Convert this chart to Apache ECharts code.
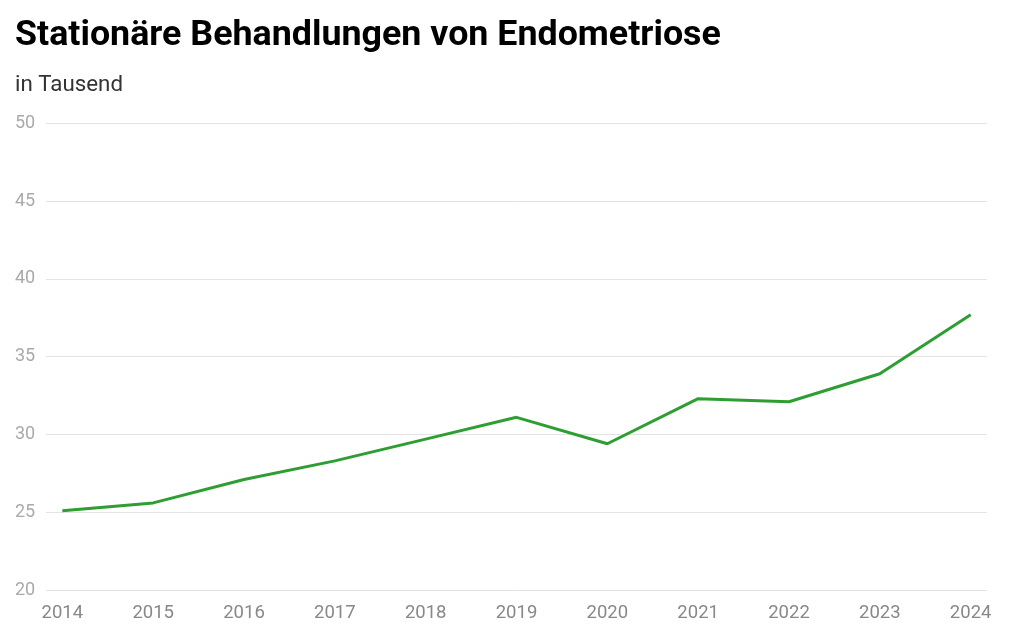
<!DOCTYPE html>
<html>
<head>
<meta charset="utf-8">
<script src="https://cdn.jsdelivr.net/npm/echarts@6/dist/echarts.min.js"></script>
<style>
html,body{margin:0;padding:0;background:#fff;}
#chart{width:1024px;height:640px;}
</style>
</head>
<body>
<div id="chart"></div>
<script>
const titleText = "Stationäre Behandlungen von Endometriose";
const subtitleText = "in Tausend";
const years = [2014, 2015, 2016, 2017, 2018, 2019, 2020, 2021, 2022, 2023, 2024];
const values = [25.1, 25.6, 27.1, 28.3, 29.7, 31.1, 29.4, 32.3, 32.1, 33.9, 37.7];
const yTicks = [20, 25, 30, 35, 40, 45, 50];

const chart = echarts.init(document.getElementById('chart'), null, {renderer: 'canvas'});
const font = 'Roboto, "Noto Sans", sans-serif';
chart.setOption({
  backgroundColor: '#ffffff',
  animation: false,
  title: [
    {text: titleText, left: 10, top: 13, textStyle: {fontFamily: font, fontSize: 35.8, fontWeight: 'bold', color: '#000'}},
    {text: subtitleText, left: 10, top: 69, textStyle: {fontFamily: font, fontSize: 22.3, fontWeight: 'normal', color: '#333'}}
  ],
  grid: {left: 46, right: 37, top: 123.3, bottom: 50, containLabel: false},
  xAxis: {
    type: 'value',
    min: 2013.82,
    max: 2024.18,
    axisLine: {show: false},
    axisTick: {show: false},
    splitLine: {show: false},
    axisLabel: {
      customValues: years,
      fontFamily: font, fontSize: 18.5, color: '#888', margin: 14,
      formatter: v => String(Math.round(v))
    }
  },
  yAxis: {
    type: 'value',
    min: yTicks[0], max: yTicks[yTicks.length - 1], interval: 5,
    axisLine: {show: false},
    axisTick: {show: false},
    splitLine: {lineStyle: {color: '#e3e3e3', width: 1}},
    axisLabel: {fontFamily: font, fontSize: 18, color: '#aaa', align: 'left', margin: 31}
  },
  series: [{
    type: 'line',
    data: years.map((y, i) => [y, values[i]]),
    showSymbol: false,
    lineStyle: {color: '#2e9e32', width: 3},
    itemStyle: {color: '#2e9e32'}
  }]
});
</script>
</body>
</html>
